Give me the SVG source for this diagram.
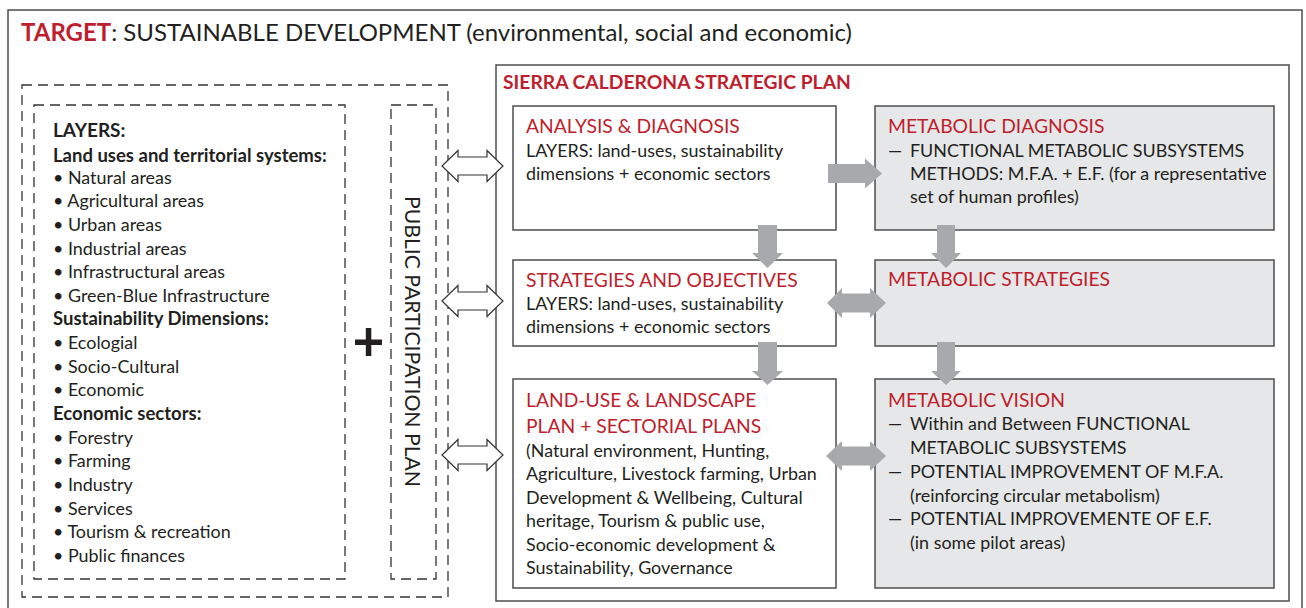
<svg xmlns="http://www.w3.org/2000/svg" width="1306" height="608" viewBox="0 0 1306 608">
<style>
text{font-family:Lato,"Liberation Sans",sans-serif;fill:#231f20}
.red{fill:#be1e2d}
.t{font-size:17.9px}
.h{font-size:19.3px;fill:#be1e2d}
.b{font-weight:bold}
.bh{font-weight:bold;font-size:18.5px}
.box{fill:#fff;stroke:#4d4d4d;stroke-width:1.5}
.gbox{fill:#e6e7e8;stroke:#4d4d4d;stroke-width:1.5}
.dash{fill:none;stroke:#333;stroke-width:1.3;stroke-dasharray:10 6}
.oarr{fill:#fff;stroke:#333;stroke-width:1.2;stroke-linejoin:miter}
.garr{fill:#a7a9ac;stroke:none}
</style>
<rect x="0" y="0" width="1306" height="608" fill="#fff"/>
<g id="frame">
<rect x="8" y="10" width="1294" height="610" fill="none" stroke="#4d4d4d" stroke-width="1.5"/>
<text x="21" y="41" style="font-size:24px"><tspan class="red b">TARGET</tspan>: SUSTAINABLE DEVELOPMENT (environmental, social and economic)</text>
</g>
<g id="layers-panel">
<rect class="dash" x="22" y="85" width="426" height="512"/>
<rect class="dash" x="34" y="105" width="311" height="474"/>
<text x="53" y="137" class="b" style="font-size:19px">LAYERS:</text>
<text x="53" y="162" class="bh">Land uses and territorial systems:</text>
<g class="t">
<text x="53" y="183.5">• Natural areas</text>
<text x="53" y="207.2">• Agricultural areas</text>
<text x="53" y="230.8">• Urban areas</text>
<text x="53" y="254.5">• Industrial areas</text>
<text x="53" y="278.1">• Infrastructural areas</text>
<text x="53" y="301.8">• Green-Blue Infrastructure</text>
<text x="53" y="349.1">• Ecologial</text>
<text x="53" y="372.7">• Socio-Cultural</text>
<text x="53" y="396.4">• Economic</text>
<text x="53" y="443.7">• Forestry</text>
<text x="53" y="467.3">• Farming</text>
<text x="53" y="491">• Industry</text>
<text x="53" y="514.6">• Services</text>
<text x="53" y="538.3">• Tourism &amp; recreation</text>
<text x="53" y="562">• Public finances</text>
</g>
<text x="53" y="325.4" class="bh">Sustainability Dimensions:</text>
<text x="53" y="420" class="bh">Economic sectors:</text>
</g>
<g id="plus">
<rect x="355" y="339.5" width="27" height="5.5" fill="#231f20"/>
<rect x="365.8" y="328" width="5.5" height="28" fill="#231f20"/>
</g>
<g id="public-participation">
<rect class="dash" x="391" y="105" width="45" height="474"/>
<text transform="translate(405,341.5) rotate(90)" text-anchor="middle" style="font-size:21px" textLength="291" lengthAdjust="spacingAndGlyphs">PUBLIC PARTICIPATION PLAN</text>
</g>
<g id="strategic-plan">
<rect x="496" y="65" width="793" height="536" fill="none" stroke="#4d4d4d" stroke-width="1.5"/>
<text x="503" y="89" class="red b" style="font-size:19.3px">SIERRA CALDERONA STRATEGIC PLAN</text>
</g>
<g id="analysis">
<rect class="box" x="513" y="106" width="323" height="124"/>
<text x="526" y="133" class="h">ANALYSIS &amp; DIAGNOSIS</text>
<text x="526" y="157" class="t">LAYERS: land-uses, sustainability</text>
<text x="526" y="180" class="t">dimensions + economic sectors</text>
</g>
<g id="strategies">
<rect class="box" x="513" y="260" width="323" height="86"/>
<text x="526" y="287" class="h">STRATEGIES AND OBJECTIVES</text>
<text x="526" y="310" class="t">LAYERS: land-uses, sustainability</text>
<text x="526" y="333" class="t">dimensions + economic sectors</text>
</g>
<g id="landuse">
<rect class="box" x="513" y="379" width="323" height="209"/>
<text x="526" y="407" class="h">LAND-USE &amp; LANDSCAPE</text>
<text x="526" y="433" class="h">PLAN + SECTORIAL PLANS</text>
<g class="t">
<text x="526" y="456.5">(Natural environment, Hunting,</text>
<text x="526" y="480">Agriculture, Livestock farming, Urban</text>
<text x="526" y="503.5">Development &amp; Wellbeing, Cultural</text>
<text x="526" y="527">heritage, Tourism &amp; public use,</text>
<text x="526" y="550.5">Socio-economic development &amp;</text>
<text x="526" y="574">Sustainability, Governance</text>
</g>
</g>
<g id="metabolic-diagnosis">
<rect class="gbox" x="875" y="106" width="399" height="124"/>
<text x="888" y="133" class="h">METABOLIC DIAGNOSIS</text>
<g class="t">
<text x="888" y="157">—</text><text x="910" y="157">FUNCTIONAL METABOLIC SUBSYSTEMS</text>
<text x="910" y="180">METHODS: M.F.A. + E.F. (for a representative</text>
<text x="910" y="203">set of human profiles)</text>
</g>
</g>
<g id="metabolic-strategies">
<rect class="gbox" x="875" y="260" width="399" height="86"/>
<text x="888" y="286" class="h">METABOLIC STRATEGIES</text>
</g>
<g id="metabolic-vision">
<rect class="gbox" x="875" y="379" width="399" height="209"/>
<text x="888" y="407" class="h">METABOLIC VISION</text>
<g class="t">
<text x="888" y="430">—</text><text x="910" y="430">Within and Between FUNCTIONAL</text>
<text x="910" y="453.5">METABOLIC SUBSYSTEMS</text>
<text x="888" y="477.5">—</text><text x="910" y="477.5">POTENTIAL IMPROVEMENT OF M.F.A.</text>
<text x="910" y="501.5">(reinforcing circular metabolism)</text>
<text x="888" y="525">—</text><text x="910" y="525">POTENTIAL IMPROVEMENTE OF E.F.</text>
<text x="910" y="548.5">(in some pilot areas)</text>
</g>
</g>
<g id="connectors">
<path class="oarr" d="M442,166 L458,150.5 L458,157 L487,157 L487,150.5 L503,166 L487,181.5 L487,175 L458,175 L458,181.5 Z"/>
<path class="oarr" d="M442,301 L458,285.5 L458,292 L487,292 L487,285.5 L503,301 L487,316.5 L487,310 L458,310 L458,316.5 Z"/>
<path class="oarr" d="M442,455 L458,439.5 L458,446 L487,446 L487,439.5 L503,455 L487,470.5 L487,464 L458,464 L458,470.5 Z"/>
<path class="garr" d="M828,164 L865,164 L865,158.5 L882,173.5 L865,188.5 L865,183 L828,183 Z"/>
<path class="garr" d="M827,303 L842,288 L842,293.5 L870,293.5 L870,288 L886,303 L870,318 L870,312.5 L842,312.5 L842,318 Z"/>
<path class="garr" d="M826,456 L842,441 L842,446.5 L870,446.5 L870,441 L886,456 L870,471 L870,465.5 L842,465.5 L842,471 Z"/>
<path class="garr" d="M758,225 L777,225 L777,253 L783,253 L767.5,268 L752,253 L758,253 Z"/>
<path class="garr" d="M758,342 L777,342 L777,371 L783,371 L767.5,385 L752,371 L758,371 Z"/>
<path class="garr" d="M937,225 L955,225 L955,253 L961,253 L946,268 L931,253 L937,253 Z"/>
<path class="garr" d="M937,342 L955,342 L955,371 L961,371 L946,385 L931,371 L937,371 Z"/>
</g>
</svg>
